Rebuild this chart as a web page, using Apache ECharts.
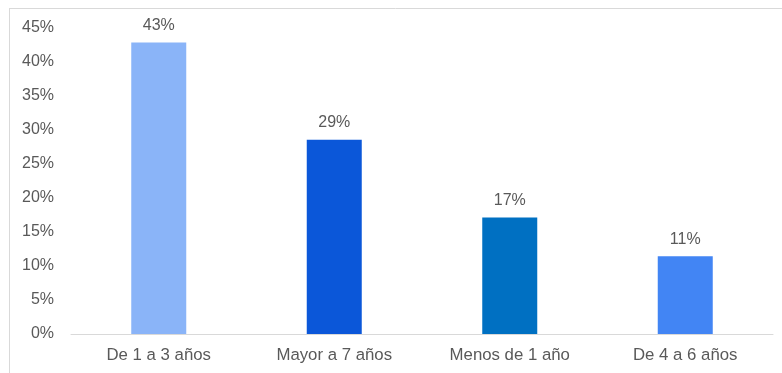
<!DOCTYPE html>
<html>
<head>
<meta charset="utf-8">
<script src="https://cdn.jsdelivr.net/npm/echarts@6/dist/echarts.min.js"></script>
<style>
  html, body { margin: 0; padding: 0; background: #fff; }
  #chart { width: 782px; height: 373px; }
</style>
</head>
<body>
<div id="chart"></div>
<script>
// Antigüedad: share of respondents per range (percent)
const categories = ['De 1 a 3 años', 'Mayor a 7 años', 'Menos de 1 año', 'De 4 a 6 años'];
const shares = [42.86, 28.57, 17.14, 11.43];
const barColors = ['#8ab4f8', '#0b57d9', '#0070c2', '#4285f4'];
const yTicks = { min: 0, max: 45, step: 5 };

const textColor = '#595959';
const font = '"Liberation Sans", Arial, sans-serif';

const chart = echarts.init(document.getElementById('chart'), null, { renderer: 'canvas' });

chart.setOption({
  animation: false,
  backgroundColor: '#ffffff',
  grid: { left: 71, right: 9, top: 28, bottom: 39, containLabel: false },
  xAxis: {
    type: 'category',
    data: categories,
    axisTick: { show: false },
    axisLine: { show: true, lineStyle: { color: '#d9d9d9', width: 1 } },
    axisLabel: { color: textColor, fontFamily: font, fontSize: 16.8, margin: 13 }
  },
  yAxis: {
    type: 'value',
    min: yTicks.min,
    max: yTicks.max,
    interval: yTicks.step,
    splitLine: { show: false },
    axisLine: { show: false },
    axisTick: { show: false },
    axisLabel: {
      color: textColor, fontFamily: font, fontSize: 16, margin: 17,
      formatter: v => v + '%'
    }
  },
  series: [{
    type: 'bar',
    barWidth: 55,
    data: shares.map((v, i) => ({ value: v, itemStyle: { color: barColors[i] } })),
    label: {
      show: true,
      position: 'top',
      distance: 9,
      color: textColor,
      fontFamily: font,
      fontSize: 16,
      formatter: p => Math.round(p.value) + '%'
    }
  }],
  graphic: [
    { type: 'line', shape: { x1: 9, y1: 8.5, x2: 782, y2: 8.5 }, style: { stroke: '#d9d9d9', lineWidth: 1 }, silent: true },
    { type: 'line', shape: { x1: 9.5, y1: 8, x2: 9.5, y2: 373 }, style: { stroke: '#d9d9d9', lineWidth: 1 }, silent: true }
  ]
});
</script>
</body>
</html>
